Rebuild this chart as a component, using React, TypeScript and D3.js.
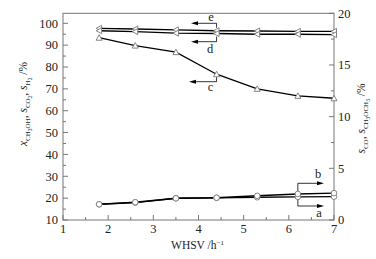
import React from "react";
import * as d3 from "d3";

const WHSV = [1.8, 2.6, 3.5, 4.4, 5.3, 6.2, 7.0];
const seriesE = [97.7, 97.4, 97.0, 96.6, 96.5, 96.3, 96.3];
const seriesD = [96.6, 96.2, 95.5, 95.3, 95.0, 95.0, 94.8];
const seriesC = [93.4, 89.8, 86.8, 76.7, 70.0, 66.8, 65.7];
const seriesA = [1.52, 1.68, 2.1, 2.14, 2.2, 2.24, 2.26];
const seriesB = [1.52, 1.72, 2.1, 2.16, 2.34, 2.52, 2.6];
const xTicks = [1, 2, 3, 4, 5, 6, 7];
const yLeftTicks = [10, 20, 30, 40, 50, 60, 70, 80, 90, 100];
const yRightTicks = [0, 5, 10, 15, 20];

const W = 376, H = 259;
const L = 63, R = 334, T = 13.3, B = 220;
const FONT = "'Liberation Serif', 'Times New Roman', serif";

export default function App() {
  const x = d3.scaleLinear().domain([1, 7]).range([L, R]);
  const yL = d3.scaleLinear().domain([10, 100]).range([B, 23.3]);
  const yR = d3.scaleLinear().domain([0, 20]).range([B, T]);

  const lineL = d3.line<number>().x((_, i) => x(WHSV[i])).y((v) => yL(v));
  const lineR = d3.line<number>().x((_, i) => x(WHSV[i])).y((v) => yR(v));

  const axisColor = "#777";
  const textColor = "#222";
  const markerStroke = "#777";

  const xMinor = d3.range(1.5, 7, 1);
  const yLMinor = d3.range(15, 100, 10);
  const yRMinor = d3.range(2.5, 20, 5);

  const leftTri = (cx: number, cy: number) =>
    `M${cx - 3},${cy} L${cx + 2.5},${cy - 3} L${cx + 2.5},${cy + 3} Z`;
  const upTri = (cx: number, cy: number) =>
    `M${cx},${cy - 3} L${cx + 3},${cy + 2.5} L${cx - 3},${cy + 2.5} Z`;

  const arrowHead = (tipX: number, y: number, dir: number) =>
    `M${tipX},${y} L${tipX - dir * 7},${y - 2} L${tipX - dir * 7},${y + 2} Z`;

  const xi = 3; // point index at WHSV 4.4
  const xb = 5; // point index at WHSV 6.2

  return (
    <svg width={W} height={H} style={{ position: "absolute", left: 0, top: 0, background: "#fff" }} fontFamily={FONT}>
      <rect x={L} y={T} width={R - L} height={B - T} fill="none" stroke={axisColor} strokeWidth={1} />
      {xTicks.map((t) => (
        <g key={"xt" + t}>
          <line x1={x(t)} x2={x(t)} y1={B} y2={B - 5} stroke={axisColor} />
          <text x={x(t)} y={233} textAnchor="middle" fontSize={12.5} fill={textColor}>{t}</text>
        </g>
      ))}
      {xMinor.map((t) => (
        <line key={"xm" + t} x1={x(t)} x2={x(t)} y1={B} y2={B - 3} stroke={axisColor} />
      ))}
      {yLeftTicks.map((t) => (
        <g key={"yl" + t}>
          <line x1={L} x2={L + 5} y1={yL(t)} y2={yL(t)} stroke={axisColor} />
          <text x={58} y={yL(t) + 4.3} textAnchor="end" fontSize={12.5} fill={textColor}>{t}</text>
        </g>
      ))}
      {yLMinor.map((t) => (
        <line key={"ylm" + t} x1={L} x2={L + 3} y1={yL(t)} y2={yL(t)} stroke={axisColor} />
      ))}
      {yRightTicks.map((t) => (
        <g key={"yr" + t}>
          <line x1={R} x2={R - 5} y1={yR(t)} y2={yR(t)} stroke={axisColor} />
          <text x={338} y={yR(t) + 4.3} textAnchor="start" fontSize={12.5} fill={textColor}>{t}</text>
        </g>
      ))}
      {yRMinor.map((t) => (
        <line key={"yrm" + t} x1={R} x2={R - 3} y1={yR(t)} y2={yR(t)} stroke={axisColor} />
      ))}

      <path d={lineL(seriesE) || ""} fill="none" stroke="#000" strokeWidth={1.4} />
      <path d={lineL(seriesD) || ""} fill="none" stroke="#000" strokeWidth={1.4} />
      <path d={lineL(seriesC) || ""} fill="none" stroke="#000" strokeWidth={1.3} />
      <path d={lineR(seriesA) || ""} fill="none" stroke="#000" strokeWidth={1.4} />
      <path d={lineR(seriesB) || ""} fill="none" stroke="#000" strokeWidth={1.4} />

      {seriesE.map((v, i) => (
        <path key={"me" + i} d={leftTri(x(WHSV[i]), yL(v))} fill="#fff" stroke={markerStroke} strokeWidth={0.9} />
      ))}
      {seriesD.map((v, i) => (
        <path key={"md" + i} d={leftTri(x(WHSV[i]), yL(v))} fill="#fff" stroke={markerStroke} strokeWidth={0.9} />
      ))}
      {seriesC.map((v, i) => (
        <path key={"mc" + i} d={upTri(x(WHSV[i]), yL(v))} fill="#fff" stroke={markerStroke} strokeWidth={0.9} />
      ))}
      {seriesA.map((v, i) => (
        <circle key={"ma" + i} cx={x(WHSV[i])} cy={yR(v)} r={2.8} fill="#fff" stroke={markerStroke} strokeWidth={0.9} />
      ))}
      {seriesB.map((v, i) => (
        <circle key={"mb" + i} cx={x(WHSV[i])} cy={yR(v)} r={2.8} fill="#fff" stroke={markerStroke} strokeWidth={0.9} />
      ))}

      <g stroke="#000" strokeWidth={0.8} fill="none">
        <polyline points={`${x(WHSV[xi])},${yL(seriesE[xi]) - 3} ${x(WHSV[xi])},23.3 196,23.3`} />
        <polyline points={`${x(WHSV[xi])},${yL(seriesD[xi]) + 3} ${x(WHSV[xi])},41.7 196,41.7`} />
        <polyline points={`${x(WHSV[xi])},${yL(seriesC[xi]) + 3} ${x(WHSV[xi])},81.7 194,81.7`} />
        <polyline points={`${x(WHSV[xb])},${yR(seriesB[xb]) - 3} ${x(WHSV[xb])},183.3 318,183.3`} />
        <polyline points={`${x(WHSV[xb])},${yR(seriesA[xb]) + 3} ${x(WHSV[xb])},206 318,206`} />
      </g>
      <g fill="#000">
        <path d={arrowHead(191, 23.3, -1)} />
        <path d={arrowHead(191, 41.7, -1)} />
        <path d={arrowHead(189, 81.7, -1)} />
        <path d={arrowHead(324, 183.3, 1)} />
        <path d={arrowHead(324, 206, 1)} />
      </g>
      <g fontSize={12.5} fill={textColor} textAnchor="middle">
        <text x={211} y={21}>e</text>
        <text x={210} y={53}>d</text>
        <text x={210.5} y={90.5}>c</text>
        <text x={318} y={177.5}>b</text>
        <text x={319} y={217}>a</text>
      </g>

      <text x={197.5} y={248.5} textAnchor="middle" fontSize={11.5} fill={textColor}>
        WHSV /h<tspan dy={-4} fontSize={7}>−1</tspan>
      </text>

      <text transform="translate(27,104) rotate(-90)" textAnchor="middle" fontSize={11.5} fill={textColor}>
        <tspan fontStyle="italic">x</tspan>
        <tspan dy={3} fontSize={7}>CH</tspan>
        <tspan dy={1.5} fontSize={5.5}>3</tspan>
        <tspan dy={-1.5} fontSize={7}>OH</tspan>
        <tspan dy={-3}>, </tspan>
        <tspan fontStyle="italic">s</tspan>
        <tspan dy={3} fontSize={7}>CO</tspan>
        <tspan dy={1.5} fontSize={5.5}>2</tspan>
        <tspan dy={-4.5}>, </tspan>
        <tspan fontStyle="italic">s</tspan>
        <tspan dy={3} fontSize={7}>H</tspan>
        <tspan dy={1.5} fontSize={5.5}>2</tspan>
        <tspan dy={-4.5}> /%</tspan>
      </text>

      <text transform="translate(365,118.5) rotate(-90)" textAnchor="middle" fontSize={11.5} fill={textColor}>
        <tspan fontStyle="italic">s</tspan>
        <tspan dy={3} fontSize={7}>CO</tspan>
        <tspan dy={-3}>, </tspan>
        <tspan fontStyle="italic">s</tspan>
        <tspan dy={3} fontSize={7}>CH</tspan>
        <tspan dy={1.5} fontSize={5.5}>3</tspan>
        <tspan dy={-1.5} fontSize={7}>OCH</tspan>
        <tspan dy={1.5} fontSize={5.5}>3</tspan>
        <tspan dy={-4.5}> /%</tspan>
      </text>
    </svg>
  );
}
